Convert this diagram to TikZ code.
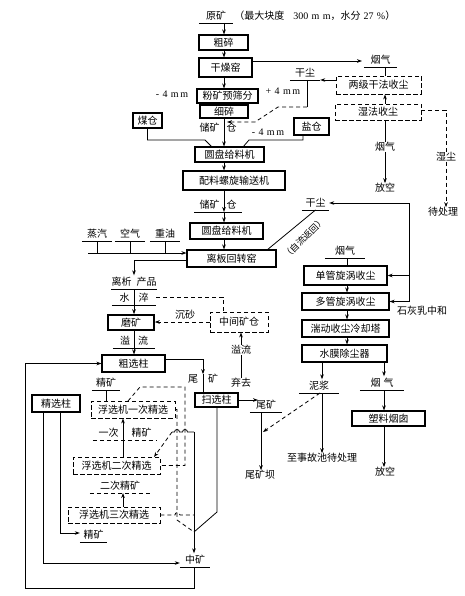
\documentclass[tikz,border=0pt]{standalone}
\usepackage{fontspec}
\setmainfont{Noto Sans CJK SC}
\newfontfamily\lat{Liberation Serif}
\usetikzlibrary{arrows.meta}
\begin{document}
\begin{tikzpicture}[x=1pt,y=-1pt,
  every node/.style={font=\fontsize{10}{12}\selectfont, inner sep=0pt},
  box/.style={draw, line width=1.1pt},
  tbox/.style={draw, line width=1.6pt},
  dbox/.style={draw, line width=0.9pt, dash pattern=on 4.5pt off 2.5pt},
  ln/.style={line width=0.8pt},
  dsh/.style={line width=0.8pt, dash pattern=on 4pt off 3pt},
  tip/.style={-{Stealth[length=5pt,width=3.6pt]}},
  arr/.style={ln, tip},
  ul/.style={anchor=south, text height=8.5pt, text depth=1.2pt, inner ysep=1.8pt,
    append after command={\pgfextra{\draw[ln] (\tikzlastnode.south west) -- (\tikzlastnode.south east);}}},
  dul/.style={anchor=south, text height=8.5pt, text depth=1.2pt, inner ysep=1.8pt,
    append after command={\pgfextra{\draw[dsh] (\tikzlastnode.south west) -- (\tikzlastnode.south east);}}},
]
\useasboundingbox (0,0) rectangle (464,596);
\fill[white] (0,0) rectangle (464,596);

% ---------- axes / bend coordinates ----------
\coordinate (ax1) at (224,0);
\coordinate (axr) at (385,0);
\coordinate (ax2) at (134,0);
\coordinate (axc) at (347,0);
\coordinate (axn) at (322,0);
\coordinate (axy) at (384,0);
\coordinate (axf) at (123,0);
\coordinate (c1) at (362,61);
\coordinate (c2) at (267,250);
\coordinate (c3) at (307,107);
\coordinate (c4) at (278,107);
\coordinate (c5) at (255,122);
\coordinate (c6) at (227,122);
\coordinate (c7) at (446,110);
\coordinate (c9) at (205,140);
\coordinate (c10) at (212,147);
\coordinate (c11) at (303,140);
\coordinate (c12) at (249,140);
\coordinate (c13) at (243,147);
\coordinate (c14) at (88,253);
\coordinate (c15) at (134,260);
\coordinate (c16) at (223,297);
\coordinate (c18) at (203,359);
\coordinate (c19) at (258,400);
\coordinate (c20) at (261,0);
\coordinate (c21) at (263,432);
\coordinate (c22) at (320,0);
\coordinate (c23) at (409,203);
\coordinate (c24) at (128,401);
\coordinate (c25) at (140,387);
\coordinate (c26) at (185,387);
\coordinate (c28) at (177,520);
\coordinate (c29) at (194,432);
\coordinate (c30) at (172,432);
\coordinate (c31) at (154,457);
\coordinate (junc) at (194,532);
\coordinate (c32) at (217,512);
\coordinate (c33) at (43,563);
\coordinate (c34) at (60,533);
\coordinate (c35) at (25,588);

% ---------- top line ----------
\node[ul, minimum width=34pt] (yk) at (216,23) {原矿};
\node[anchor=base west] (ykinfo) at ([xshift=1pt]yk.base east) {（最大块度\hspace{9pt}{\lat 300\,\,m\,\,m}，水分\hspace{3pt}{\lat 27\,\,\%}）};

% ---------- boxes ----------
\node[box, minimum width=49pt, minimum height=15pt] (cusui) at (223.5,42.5) {粗碎};
\node[box, minimum width=53pt, minimum height=19pt] (ganzao) at (225.5,67.5) {干燥窑};
\node[box, minimum width=61pt, minimum height=14pt] (fenkuang) at (227.5,96) {粉矿预筛分};
\node[box, minimum width=48pt, minimum height=13pt] (xisui) at (224,111.5) {细碎};
\node[box, line width=1.3pt, minimum width=29pt, minimum height=15pt] (meicang) at (147.5,120.5) {煤仓};
\node[box, line width=1.3pt, minimum width=35pt, minimum height=17pt] (yancang) at (311.5,126.5) {盐仓};
\node[box, minimum width=69pt, minimum height=15pt] (yuanpan1) at (229.5,154.5) {圆盘给料机};
\node[box, minimum width=102pt, minimum height=19pt] (peiliao) at (234,180.5) {配料螺旋输送机};
\node[box, minimum width=73pt, minimum height=16pt] (yuanpan2) at (226.5,231) {圆盘给料机};
\node[box, minimum width=89pt, minimum height=17pt] (liban) at (231.5,258.5) {离板回转窑};
\node[dbox, minimum width=85pt, minimum height=18pt] (liangji) at (378.5,85) {两级干法收尘};
\node[dbox, minimum width=86pt, minimum height=16pt] (shifa) at (378,112) {湿法收尘};
\node[box, minimum width=83pt, minimum height=19pt] (danguan) at (345.5,275.5) {单管旋涡收尘};
\node[box, minimum width=87pt, minimum height=17pt] (duoguan) at (345.5,301.5) {多管旋涡收尘};
\node[box, minimum width=87pt, minimum height=17pt] (tuandong) at (345.5,328.5) {湍动收尘冷却塔};
\node[box, minimum width=85pt, minimum height=17pt] (shuimo) at (344.5,353.5) {水膜除尘器};
\node[box, minimum width=73pt, minimum height=15pt] (suliao) at (388.5,418.5) {塑料烟囱};
\node[tbox, minimum width=46pt, minimum height=15pt] (mokuang) at (131,322.5) {磨矿};
\node[dbox, minimum width=58pt, minimum height=20pt] (zhongjian) at (239,322) {中间矿仓};
\node[box, minimum width=63pt, minimum height=17pt] (cuxuan) at (133.5,363.5) {粗选柱};
\node[box, minimum width=43pt, minimum height=14pt] (saoxuan) at (216.5,400) {扫选柱};
\node[tbox, minimum width=48pt, minimum height=17pt] (jingxuan) at (56,403.5) {精选柱};
\node[dbox, minimum width=84pt, minimum height=17pt] (fx1) at (133,409.5) {浮选机一次精选};
\node[dbox, minimum width=87pt, minimum height=17pt] (fx2) at (116.5,465.5) {浮选机二次精选};
\node[dbox, minimum width=92pt, minimum height=16pt] (fx3) at (114,515) {浮选机三次精选};

% ---------- labels ----------
\node (chk1) at (218,128) {储矿\hspace{7pt}仓};
\node (m4a) at (172,94) {\lat -\,\,4\,\,m\,m};
\node (p4) at (283,91) {\lat +\,\,4\,\,m\,m};
\node (m4b) at (268,132) {\lat -\,\,4\,\,m\,m};
\node[ul, minimum width=33pt] (yanqi1) at (380.5,67) {烟气};
\node[ul, minimum width=30pt] (gancheng1) at (305,80) {干尘};
\node (yanqi2) at (385,147) {烟气};
\node (fangkong1) at (385,188) {放空};
\node (shichen) at (446,157) {湿尘};
\node (daichuli) at (443,212) {待处理};
\node[ul, minimum width=47pt] (chk2) at (218,212) {储矿\hspace{7pt}仓};
\node[ul, minimum width=27pt] (gancheng2) at (315.5,210) {干尘};
\node[ul, minimum width=30pt] (zhengqi) at (97,241) {蒸汽};
\node[ul, minimum width=30pt] (kongqi) at (130,241) {空气};
\node[ul, minimum width=30pt] (zhongyou) at (165,241) {重油};
\node[rotate=45, font=\fontsize{9}{10}\selectfont] (zlfh) at (304,238) {（自流返回）};
\node[ul, minimum width=40pt] (yanqi3) at (345,258) {烟气};
\node (shihui) at (422,311) {石灰乳中和};
\node[ul, minimum width=44pt] (lixi) at (134,289) {离析\hspace{5pt}产品};
\node[ul, minimum width=44pt] (shuicui) at (134,305) {水\hspace{9pt}淬};
\node (chensha) at (185,315) {沉砂};
\node[ul, minimum width=42pt] (yiliu1) at (134,348) {溢\hspace{8pt}流};
\node (yiliu2) at (241,350) {溢流};
\node (qiqu) at (241,383) {弃去};
\node (weikuang2) at (203,379) {尾\hspace{10pt}矿};
\node[ul, minimum width=32pt] (weikuang3) at (266,412) {尾矿};
\node (weikuangba) at (260,475) {尾矿坝};
\node[ul, minimum width=40pt] (nijiang) at (319,393) {泥浆};
\node (shigu) at (322,458) {至事故池待处理};
\node[ul, minimum width=44pt] (yanqi4) at (382,390) {烟\hspace{3pt}气};
\node (fangkong2) at (385,472) {放空};
\node[ul, minimum width=28pt] (jingkuang1) at (106,390) {精矿};
\node[dul, minimum width=64pt] (yicijk) at (125,440) {一次\hspace{13pt}精矿};
\node[dul, minimum width=60pt] (ercijk) at (120,493) {二次精矿};
\node[ul, minimum width=27pt] (jingkuang2) at (93.5,542) {精矿};
\node[ul, minimum width=30pt] (zhongkuang) at (195,567) {中矿};

% ---------- main axis ----------
\draw[arr] (yk.south -| ax1) -- (cusui.north -| ax1);
\draw[arr] (cusui.south -| ax1) -- (ganzao.north -| ax1);
\draw[arr] (ganzao.south -| ax1) -- (fenkuang.north -| ax1);
\draw[ln] (fenkuang.south -| ax1) -- (xisui.north -| ax1);
\draw[arr] (xisui.south -| ax1) -- (yuanpan1.north -| ax1);
\draw[arr] (yuanpan1.south -| ax1) -- (peiliao.north -| ax1);
\draw[arr] (peiliao.south -| ax1) -- (chk2.south -| ax1);
\draw[arr] (chk2.south -| ax1) -- (yuanpan2.north -| ax1);
\draw[arr] (yuanpan2.south -| ax1) -- (liban.north -| ax1);

% ---------- drying kiln gas / dust ----------
\draw[arr] (ganzao.east |- c1) -- (c1);
\draw[ln] (yanqi1.south -| axr) -- (liangji.north -| axr);
\draw[arr] (liangji.west |- gancheng1.south) -- (gancheng1.south east);
\draw[ln] (gancheng1.south -| c3) -- (c3);
\draw[dsh, tip] (c3) -- (c4) -- (c5) -- (c6);
\draw[arr] (shifa.north -| axr) -- (liangji.south -| axr);
\draw[ln] (shifa.south -| axr) -- (yanqi2.north);
\draw[arr] (yanqi2.south) -- (fangkong1.north);
\draw[dsh] (shifa.east |- c7) -- (c7) -- (c7 |- shichen.north);
\draw[dsh, tip] (shichen.south) -- (shichen.south |- daichuli.north);

% ---------- coal / salt bins ----------
\draw[ln] (meicang.south) -- (meicang.south |- c9) -- (c9) -- (c10);
\draw[ln] (yancang.south -| c11) -- (c11) -- (c12) -- (c13);

% ---------- kiln inputs / outputs ----------
\draw[arr] (c14) -- (liban.west |- c14);
\draw[ln] (zhengqi.south) -- (zhengqi.south |- c14);
\draw[ln] (kongqi.south) -- (kongqi.south |- c14);
\draw[ln] (zhongyou.south) -- (zhongyou.south |- c14);
\draw[arr] (liban.west |- c15) -- (c15) -- (c15 |- lixi.north);
\draw[ln] (c2) -- (gancheng2.south);

% ---------- cyclone chain ----------
\draw[ln] (yanqi3.south -| axc) -- (danguan.north -| axc);
\draw[arr] (danguan.south -| axc) -- (duoguan.north -| axc);
\draw[arr] (duoguan.south -| axc) -- (tuandong.north -| axc);
\draw[arr] (tuandong.south -| axc) -- (shuimo.north -| axc);
\draw[arr] (c23) -- (gancheng2.east |- c23);
\draw[ln] (c23) -- (c23 |- duoguan.east);
\draw[arr] (c23 |- danguan.east) -- (danguan.east);
\draw[arr] (c23 |- duoguan.east) -- (duoguan.east);
\draw[arr] (shuimo.south -| axn) -- (nijiang.north -| axn);
\draw[arr] (nijiang.south -| axn) -- (shigu.north -| axn);
\draw[arr] (shuimo.south -| axy) -- (yanqi4.north -| axy);
\draw[arr] (yanqi4.south -| axy) -- (suliao.north -| axy);
\draw[arr] (suliao.south -| axy) -- (fangkong2.north -| axy);
\draw[dsh, tip] (nijiang.south -| c22) -- (c21);

% ---------- grinding / rougher ----------
\draw[ln] (lixi.south -| ax2) -- (shuicui.south -| ax2);
\draw[arr] (shuicui.south -| ax2) -- (mokuang.north -| ax2);
\draw[dsh] (shuicui.east |- c16) -- (c16) -- (zhongjian.north -| c16);
\draw[dsh, tip] (zhongjian.west) -- (mokuang.east |- zhongjian.west);
\draw[ln] (mokuang.south -| ax2) -- (yiliu1.south -| ax2);
\draw[arr] (yiliu1.south -| ax2) -- (cuxuan.north -| ax2);
\draw[ln] (qiqu.north) -- (yiliu2.south);
\draw[arr] (yiliu2.north) -- (zhongjian.south -| yiliu2.north);
\draw[arr] (cuxuan.east |- c18) -- (c18) -- (c18 |- weikuang2.north);
\draw[ln] (c18 |- weikuang2.north) -- (saoxuan.north -| c18);
\draw[arr] (saoxuan.east) -- (c19);
\draw[arr] (weikuang3.south -| c20) -- (weikuangba.north -| c20);

% ---------- cleaning flotation ----------
\draw[ln] (jingkuang1.south) -- (jingkuang1.south |- fx1.north);
\draw[dsh] (c24) -- (c25) -- (c26) -- (c26 |- fx2.east) -- (fx2.east);
\draw[dsh] (fx1.east) -- (fx1.east -| c28) -- (c28) -- (junc);
\draw[ln] (c29) -- ++(-6.5,0) arc[start angle=0,end angle=180,radius=2.5pt] -- ++(-3,0) arc[start angle=0,end angle=180,radius=2.5pt] -- (c30);
\draw[dsh, tip] (c30) -- (c31);
\draw[ln] (c29) -- (junc);
\draw[dsh] (fx3.east) -- ++(14.5,0) arc[start angle=180,end angle=0,radius=2.5pt] -- (fx3.east -| junc);
\draw[ln] (saoxuan.south -| c32) -- (c32) -- (junc);
\draw[arr] (junc) -- (zhongkuang.north -| junc);
\draw[arr] (fx2.north -| axf) -- (fx1.south -| axf);
\draw[arr] (fx3.north -| axf) -- (ercijk.south -| axf);
\draw[arr] (jingxuan.south -| c33) -- (c33) -- (zhongkuang.west |- c33);
\draw[arr] (jingxuan.south -| c34) -- (c34) -- (jingkuang2.west |- c34);
\draw[arr] (zhongkuang.south -| junc) -- (junc |- c35) -- (c35) -- (c35 |- cuxuan.west) -- (cuxuan.west);
\end{tikzpicture}
\end{document}
